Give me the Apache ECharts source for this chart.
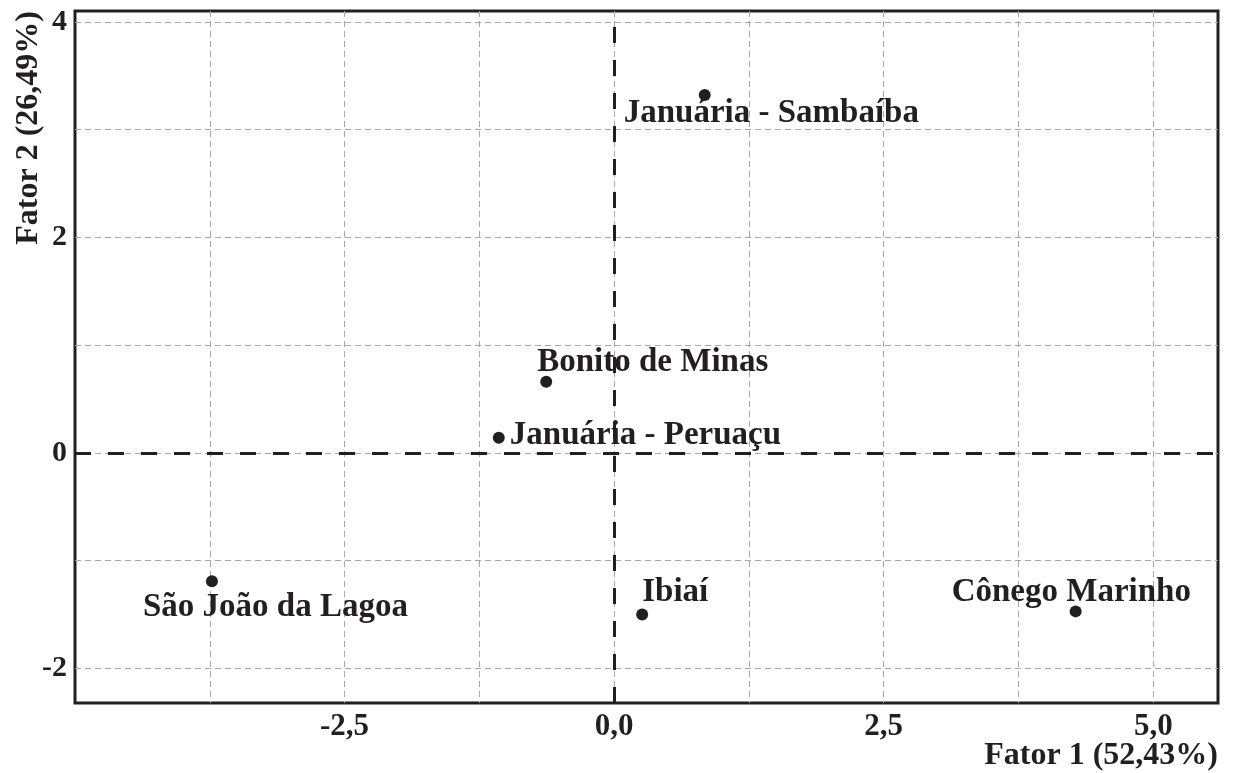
<!DOCTYPE html>
<html>
<head>
<meta charset="utf-8">
<title>Fator 1 x Fator 2</title>
<script src="https://cdn.jsdelivr.net/npm/echarts@6/dist/echarts.min.js"></script>
<style>
  html, body { margin: 0; padding: 0; background: #ffffff; }
  #chart { width: 1235px; height: 773px; }
</style>
</head>
<body>
<div id="chart"></div>
<script>
// Municipalities scored on the first two factors
const names = ['Januária - Sambaíba', 'Bonito de Minas', 'Januária - Peruaçu', 'São João da Lagoa', 'Ibiaí', 'Cônego Marinho'];
const fator1 = [0.84, -0.63, -1.07, -3.73, 0.26, 4.28];
const fator2 = [3.32, 0.66, 0.14, -1.19, -1.50, -1.47];

// Axis titles
const xTitle = 'Fator 1 (52,43%)';
const yTitle = 'Fator 2 (26,49%)';

// Where each name sits relative to its dot (pixels: left edge, vertical centre)
const labelOffsets = [[-81, 18], [-9, -19], [11, -2], [-69, 26], [0, -22], [-124, -19]];

const ink = '#231f20';
const serif = '"Liberation Serif", "Times New Roman", serif';
const dot = 12;

function commaNum(v, digits) {
  return v.toFixed(digits).replace('.', ',');
}

const points = names.map((n, i) => ({
  name: n,
  value: [fator1[i], fator2[i]],
  label: {
    position: [labelOffsets[i][0] + dot / 2, labelOffsets[i][1] + dot / 2]
  }
}));

const gridLine = { color: '#a6a6a6', width: 1, type: [6, 4] };

const chart = echarts.init(document.getElementById('chart'), null, { renderer: 'canvas' });

chart.setOption({
  animation: false,
  backgroundColor: '#ffffff',
  grid: {
    left: 75, right: 17, top: 11, bottom: 70,
    containLabel: false,
    outerBoundsMode: 'none',
    show: true,
    borderColor: ink,
    borderWidth: 3,
    backgroundColor: 'transparent'
  },
  xAxis: {
    type: 'value',
    min: -5,
    max: 5.6,
    interval: 1.25,
    name: xTitle,
    nameLocation: 'end',
    nameGap: 0,
    nameMoveOverlap: false,
    nameTextStyle: {
      fontFamily: serif, fontWeight: 'bold', fontSize: 32, color: ink,
      align: 'right', verticalAlign: 'top', padding: [37, 0, 0, 0]
    },
    axisLine: { show: false, onZero: false },
    axisTick: { show: false },
    axisLabel: {
      margin: 8,
      fontFamily: serif, fontWeight: 'bold', fontSize: 31, color: ink,
      showMinLabel: false, showMaxLabel: false,
      formatter: v => {
        const k = v / 2.5;
        return Math.abs(k - Math.round(k)) < 1e-6 ? commaNum(v, 1) : '';
      }
    },
    splitLine: { show: true, showMinLine: false, showMaxLine: false, lineStyle: gridLine }
  },
  yAxis: {
    type: 'value',
    min: -2.32,
    max: 4.1,
    splitNumber: 7,
    minInterval: 1,
    maxInterval: 1,
    name: yTitle,
    nameLocation: 'end',
    nameGap: 0,
    nameRotate: 90,
    nameMoveOverlap: false,
    nameTextStyle: {
      fontFamily: serif, fontWeight: 'bold', fontSize: 32, color: ink,
      align: 'right', verticalAlign: 'bottom', padding: [0, 0, 30, 0]
    },
    axisLine: { show: false, onZero: false },
    axisTick: { show: false },
    axisLabel: {
      margin: 8,
      fontFamily: serif, fontWeight: 'bold', fontSize: 30, color: ink,
      showMinLabel: false, showMaxLabel: false,
      formatter: v => {
        const k = v / 2;
        return Math.abs(k - Math.round(k)) < 1e-6 ? String(Math.round(v)) : '';
      }
    },
    splitLine: { show: true, showMinLine: false, showMaxLine: false, lineStyle: gridLine }
  },
  series: [{
    type: 'scatter',
    data: points,
    symbol: 'circle',
    symbolSize: dot,
    itemStyle: { color: ink, opacity: 1 },
    label: {
      show: true,
      formatter: p => p.name,
      align: 'left',
      verticalAlign: 'middle',
      fontFamily: serif,
      fontWeight: 'bold',
      fontSize: 33,
      color: ink
    },
    markLine: {
      silent: true,
      symbol: ['none', 'none'],
      label: { show: false },
      lineStyle: { color: ink, width: 3, type: [16, 17], opacity: 1 },
      data: [{ xAxis: 0 }, { yAxis: 0 }]
    },
    z: 5
  }]
});
</script>
</body>
</html>
